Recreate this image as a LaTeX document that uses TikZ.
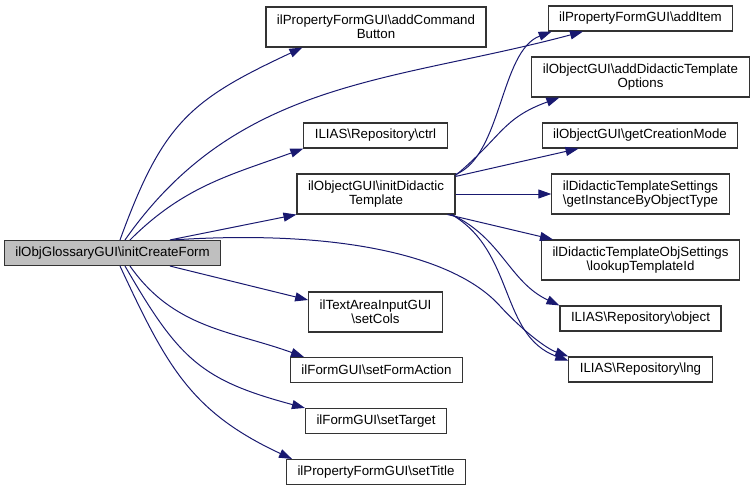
\documentclass[tikz,border=0pt]{standalone}
\usepackage{fontspec}
\setmainfont{Liberation Sans}
\usetikzlibrary{arrows.meta}
\newcommand{\bsl}{\textbackslash}
\definecolor{edgeblue}{HTML}{191970}
\begin{document}
\begin{tikzpicture}[x=1pt,y=1pt]
\tikzset{call/.style={edgeblue,line width=1pt,-{Triangle[length=13pt,width=9pt]}}}
\tikzstyle{item}=[draw=black!80,line width=1.1pt,rectangle,inner xsep=11pt,inner ysep=2pt,minimum height=25pt,align=center,font=\fontsize{13.3}{14}\selectfont]
\tikzstyle{item2}=[item,minimum height=40pt]
\useasboundingbox (0,0) rectangle (755,491);
% caller
\node[item,fill=black!25] (icf)at(112.5,238){ilObjGlossaryGUI\bsl initCreateForm};
% middle column
\node[item2] (acb)at(376,464){ilPropertyFormGUI\bsl addCommand\\Button};
\node[item] (ctrl)at(375.5,355.5){ILIAS\bsl Repository\bsl ctrl};
\node[item2] (idt)at(376,297){ilObjectGUI\bsl initDidactic\\Template};
\node[item2] (tac)at(375.5,179){ilTextAreaInputGUI\\\bsl setCols};
\node[item] (sfa)at(376.5,121){ilFormGUI\bsl setFormAction};
\node[item] (stg)at(376,70){ilFormGUI\bsl setTarget};
\node[item] (stt)at(376,19){ilPropertyFormGUI\bsl setTitle};
% right column
\node[item] (ait)at(640.5,472.5){ilPropertyFormGUI\bsl addItem};
\node[item2] (adt)at(640.5,414){ilObjectGUI\bsl addDidacticTemplate\\Options};
\node[item] (gcm)at(640,355.5){ilObjectGUI\bsl getCreationMode};
\node[item2] (gin)at(640.5,297){ilDidacticTemplateSettings\\\bsl getInstanceByObjectType};
\node[item2] (lts)at(640.5,231){ilDidacticTemplateObjSettings\\\bsl lookupTemplateId};
\node[item] (obj)at(640.5,172.5){ILIAS\bsl Repository\bsl object};
\node[item] (lng)at(640.5,121.5){ILIAS\bsl Repository\bsl lng};
% calls of initCreateForm
\draw[call] ([xshift=7.5pt]icf.north) to[out=70,in=205,looseness=1.2] ([xshift=37pt]acb.south west);
\draw[call] ([xshift=12.5pt]icf.north) to[out=55,in=195] ([xshift=-57.5pt]ait.south);
\draw[call] ([xshift=17.5pt]icf.north) to[out=45,in=200] (ctrl.south west);
\draw[call] ([xshift=57.5pt]icf.north) -- (idt.south west);
\draw[call] ([xshift=60pt]icf.north) .. controls (340,262) and (455,235) .. (500,185) .. controls (520,163) and (545,143) .. (lng.north west);
\draw[call] ([xshift=57.5pt]icf.south) -- ([yshift=12pt]tac.west);
\draw[call] ([xshift=17.5pt]icf.south) to[out=-55,in=160] ([xshift=14pt]sfa.north west);
\draw[call] ([xshift=12.5pt]icf.south) to[out=-60,in=165,looseness=1.2] (stg.north west);
\draw[call] ([xshift=7.5pt]icf.south) to[out=-65,in=155,looseness=1.1] ([xshift=6pt]stt.north west);
% calls of initDidacticTemplate
\draw[call] ([yshift=-1pt]idt.north east) .. controls (502,335) and (500,440) .. ([xshift=4pt]ait.south west);
\draw[call] ([yshift=-2pt]idt.north east) to[out=40,in=200,looseness=1.2] ([xshift=28pt]adt.south west);
\draw[call] ([yshift=-3pt]idt.north east) -- ([xshift=37pt]gcm.south west);
\draw[call] (idt) -- (gin);
\draw[call] ([xshift=-8pt]idt.south east) -- ([xshift=12pt]lts.north west);
\draw[call] ([xshift=-4pt]idt.south east) to[out=-25,in=155] (obj.north west);
\draw[call] ([xshift=-4pt]idt.south east) to[out=-30,in=160] (lng.173);
\end{tikzpicture}
\end{document}
